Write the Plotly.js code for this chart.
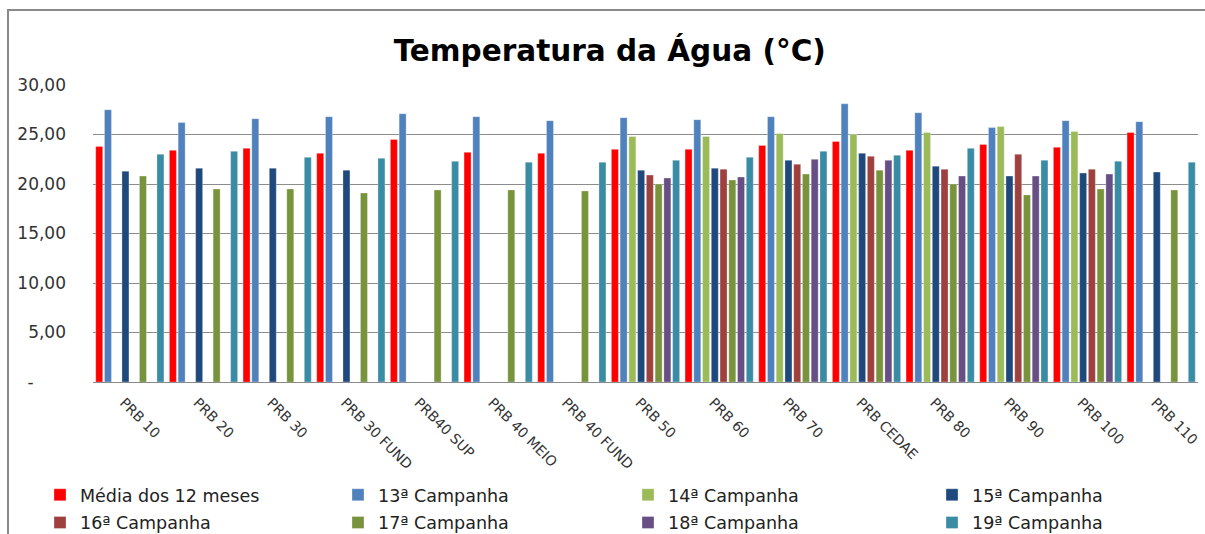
<!DOCTYPE html>
<html>
<head>
<meta charset="utf-8">
<script src="https://cdn.plot.ly/plotly-3.0.1.min.js"></script>
<style>
  body { margin: 0; background: #fff; }
  #chart { width: 1205px; height: 534px; }
  #frame {
    position: absolute; left: 7px; top: 9px; width: 1300px; height: 600px;
    border-left: 2px solid #8a8a8a; border-top: 2px solid #8a8a8a;
    pointer-events: none;
  }
</style>
</head>
<body>
<div id="chart"></div>
<div id="frame"></div>
<script>
// estações de coleta
const stations = ["PRB 10", "PRB 20", "PRB 30", "PRB 30 FUND", "PRB40 SUP", "PRB 40 MEIO", "PRB 40 FUND",
  "PRB 50", "PRB 60", "PRB 70", "PRB CEDAE", "PRB 80", "PRB 90", "PRB 100", "PRB 110"];

// temperatura (°C) por campanha, null = sem medição
const media12 = [23.8, 23.4, 23.6, 23.1, 24.5, 23.2, 23.1, 23.5, 23.5, 23.9, 24.3, 23.4, 24.0, 23.7, 25.2];
const camp13 = [27.5, 26.2, 26.6, 26.8, 27.1, 26.8, 26.4, 26.7, 26.5, 26.8, 28.1, 27.2, 25.7, 26.4, 26.3];
const camp14 = [null, null, null, null, null, null, null, 24.8, 24.8, 25.1, 25.0, 25.2, 25.8, 25.3, null];
const camp15 = [21.3, 21.6, 21.6, 21.4, null, null, null, 21.4, 21.6, 22.4, 23.1, 21.8, 20.8, 21.1, 21.2];
const camp16 = [null, null, null, null, null, null, null, 20.9, 21.5, 22.0, 22.8, 21.5, 23.0, 21.5, null];
const camp17 = [20.8, 19.5, 19.5, 19.1, 19.4, 19.4, 19.3, 20.0, 20.4, 21.0, 21.4, 20.0, 18.9, 19.5, 19.4];
const camp18 = [null, null, null, null, null, null, null, 20.6, 20.7, 22.5, 22.4, 20.8, 20.8, 21.0, null];
const camp19 = [23.0, 23.3, 22.7, 22.6, 22.3, 22.2, 22.2, 22.4, 22.7, 23.3, 22.9, 23.6, 22.4, 22.3, 22.2];

const yTicks = [0, 5, 10, 15, 20, 25, 30];
const yTickText = ["-\u00a0\u00a0\u00a0\u00a0\u00a0\u00a0", "5,00", "10,00", "15,00", "20,00", "25,00", "30,00"];

// legenda em 4 colunas, 2 linhas (coluna = legenda separada)
const series = [
  { name: "Média dos 12 meses", y: media12, color: "#FF0000", legend: "legend" },
  { name: "13ª Campanha", y: camp13, color: "#4F81BD", legend: "legend2" },
  { name: "14ª Campanha", y: camp14, color: "#9BBB59", legend: "legend3" },
  { name: "15ª Campanha", y: camp15, color: "#1F497D", legend: "legend4" },
  { name: "16ª Campanha", y: camp16, color: "#9E403E", legend: "legend" },
  { name: "17ª Campanha", y: camp17, color: "#77933C", legend: "legend2" },
  { name: "18ª Campanha", y: camp18, color: "#674F85", legend: "legend3" },
  { name: "19ª Campanha", y: camp19, color: "#3A8CA4", legend: "legend4" }
];

const traces = series.map((s, i) => ({
  type: "bar",
  name: s.name,
  x: stations,
  y: s.y,
  legend: s.legend,
  legendgroup: "g" + i,
  marker: { color: s.color, line: { color: "rgba(255,255,255,0.6)", width: 0.5 } },
  hoverinfo: "x+y+name"
}));

const font = "'DejaVu Sans', sans-serif";

function legendAt(x) {
  return {
    orientation: "v",
    xref: "container", yref: "container",
    x: x, xanchor: "left",
    y: 0.107, yanchor: "top",
    font: { family: font, size: 17.5, color: "#222" },
    tracegroupgap: 2,
    itemclick: false,
    bgcolor: "rgba(0,0,0,0)"
  };
}

Plotly.newPlot("chart", traces, {
  width: 1205,
  height: 534,
  margin: { l: 93, r: 7, t: 85, b: 152, autoexpand: false },
  paper_bgcolor: "#fff",
  plot_bgcolor: "#fff",
  font: { family: font, color: "#333" },
  title: {
    text: "<b>Temperatura da Água (°C)</b>",
    font: { family: font, size: 29.5, color: "#000" },
    x: 0.506, xanchor: "center", y: 0.905, yanchor: "middle"
  },
  barmode: "group",
  bargap: 0.05,
  bargroupgap: 0.2,
  xaxis: {
    type: "category",
    tickangle: 45,
    tickfont: { size: 14, color: "#333" },
    showline: true, linecolor: "#8a8a8a", linewidth: 1,
    ticks: "", showgrid: false,
    ticklabelstandoff: 6,
    ticklabelshift: -6
  },
  yaxis: {
    range: [0, 30],
    tickvals: yTicks,
    ticktext: yTickText,
    tickfont: { size: 17, color: "#333" },
    showgrid: true, gridcolor: "#8c8c8c", gridwidth: 1,
    zeroline: false, showline: false, ticks: "",
    ticklabelstandoff: 26
  },
  showlegend: true,
  legend: legendAt(40 / 1205),
  legend2: legendAt(338 / 1205),
  legend3: legendAt(628 / 1205),
  legend4: legendAt(932 / 1205)
}, { displayModeBar: false });
</script>
</body>
</html>
